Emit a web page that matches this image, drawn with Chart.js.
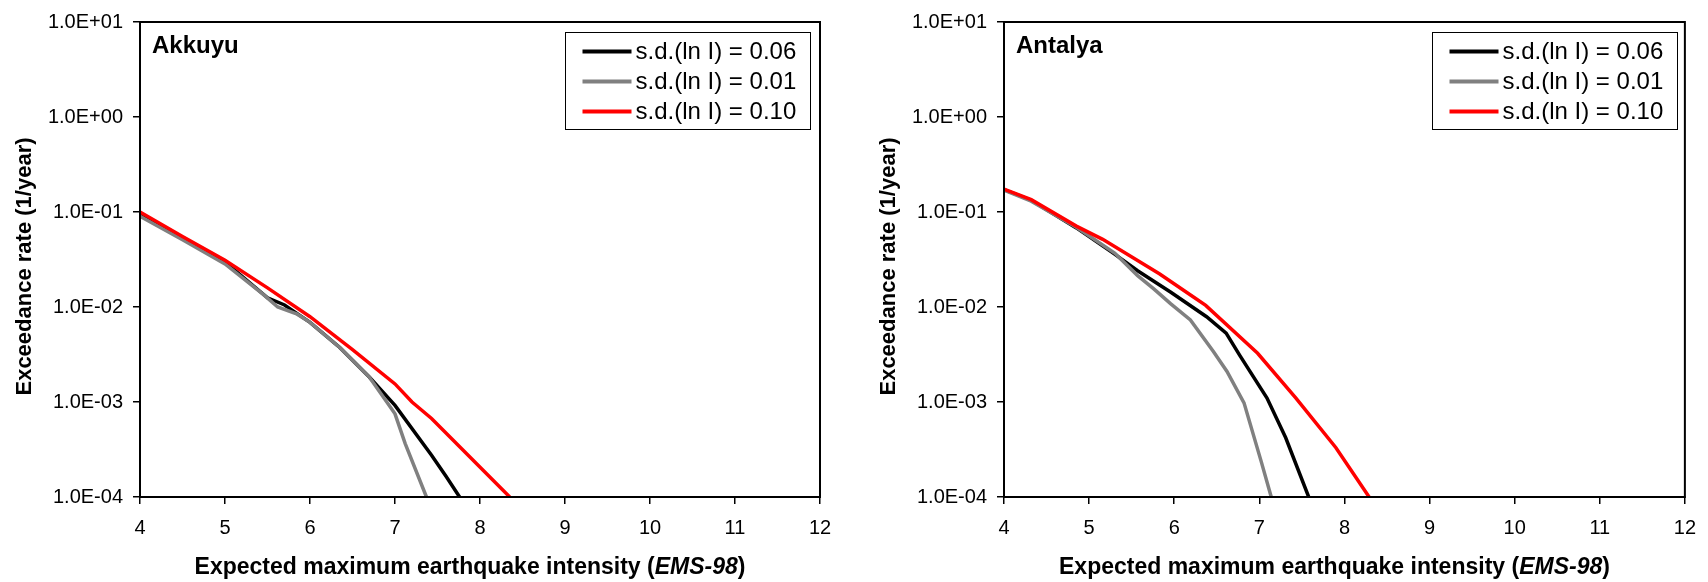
<!DOCTYPE html>
<html>
<head>
<meta charset="utf-8">
<title>Exceedance rate vs expected maximum intensity</title>
<script src="https://cdn.jsdelivr.net/npm/chart.js@4/dist/chart.umd.min.js"></script>
<style>
  body { margin: 0; background: #fff; }
  #wrap { position: relative; width: 1708px; height: 582px; }
  canvas { position: absolute; top: 0; }
</style>
</head>
<body>
<div id="wrap">
  <canvas id="akkuyu" width="850" height="582" style="left:0"></canvas>
  <canvas id="antalya" width="844" height="582" style="left:864px"></canvas>
</div>
<script>
// axis ticks
const xTicks = [4, 5, 6, 7, 8, 9, 10, 11, 12];
const yTicks = [1e-4, 1e-3, 1e-2, 1e-1, 1, 10];
const yTickLabels = ['1.0E-04', '1.0E-03', '1.0E-02', '1.0E-01', '1.0E+00', '1.0E+01'];

const seriesLabels = ['s.d.(ln I) = 0.06', 's.d.(ln I) = 0.01', 's.d.(ln I) = 0.10'];
const seriesColors = ['#000000', '#808080', '#ff0000'];

// Akkuyu
const akkuyuX06 = [4.0, 4.5, 5.0, 5.5, 5.7, 6.0, 6.35, 6.7, 7.0, 7.43, 7.6, 7.76];
const akkuyuY06 = [0.094, 0.053, 0.0298, 0.0125, 0.0105, 0.0069, 0.00375, 0.00182, 0.00092, 0.000275, 0.000165, 0.0001];
const akkuyuX01 = [4.0, 4.5, 5.0, 5.45, 5.62, 5.85, 6.0, 6.35, 6.7, 7.0, 7.12, 7.37];
const akkuyuY01 = [0.090, 0.051, 0.0284, 0.0136, 0.0100, 0.0084, 0.0069, 0.00375, 0.00182, 0.00075, 0.000365, 0.0001];
const akkuyuX10 = [4.0, 4.5, 5.0, 5.5, 6.0, 6.5, 7.0, 7.2, 7.43, 8.35];
const akkuyuY10 = [0.100, 0.0553, 0.031, 0.0159, 0.0079, 0.00355, 0.00155, 0.00100, 0.00067, 0.0001];

// Antalya
const antalyaX06 = [4.0, 4.32, 4.85, 5.3, 5.57, 5.96, 6.38, 6.61, 6.77, 7.09, 7.31, 7.58];
const antalyaY06 = [0.172, 0.133, 0.068, 0.036, 0.0241, 0.0143, 0.0079, 0.0053, 0.0031, 0.0011, 0.00042, 0.0001];
const antalyaX01 = [4.0, 4.32, 4.85, 5.3, 5.57, 5.76, 5.96, 6.19, 6.46, 6.62, 6.82, 7.02, 7.14];
const antalyaY01 = [0.170, 0.130, 0.069, 0.037, 0.0214, 0.0155, 0.0108, 0.0073, 0.0034, 0.0021, 0.00098, 0.00024, 0.0001];
const antalyaX10 = [4.0, 4.32, 4.85, 5.16, 5.83, 6.2, 6.37, 6.98, 7.43, 7.9, 8.29];
const antalyaY10 = [0.174, 0.135, 0.071, 0.0515, 0.0222, 0.0132, 0.0104, 0.00326, 0.0011, 0.00033, 0.0001];

const FONT = '"Liberation Sans", Arial, sans-serif';

function toPoints(xs, ys) {
    return xs.map((x, i) => ({ x: x, y: ys[i] }));
}

// frame, panel name, legend box and axis titles
const decor = {
    id: 'decor',
    afterDatasetsDraw(chart, args, opts) {
        const ctx = chart.ctx;
        const a = chart.chartArea;
        ctx.save();

        ctx.strokeStyle = '#000';
        ctx.lineWidth = 2;
        ctx.strokeRect(a.left, a.top, a.right - a.left, a.bottom - a.top);

        ctx.fillStyle = '#000';
        ctx.textAlign = 'left';
        ctx.textBaseline = 'alphabetic';
        ctx.font = 'bold 24px ' + FONT;
        ctx.fillText(opts.name, a.left + 12, a.top + 31);

        // legend
        const bw = 245, bh = 97;
        const bx = Math.round(a.right - opts.legendGap - bw) + 0.5;
        const by = Math.round(a.top + 10) + 0.5;
        ctx.fillStyle = '#fff';
        ctx.fillRect(bx, by, bw, bh);
        ctx.strokeStyle = '#000';
        ctx.lineWidth = 1;
        ctx.strokeRect(bx, by, bw, bh);
        ctx.font = '24px ' + FONT;
        ctx.textBaseline = 'middle';
        chart.data.datasets.forEach((ds, i) => {
            const y = by + 19 + i * 30;
            ctx.strokeStyle = ds.borderColor;
            ctx.lineWidth = 4;
            ctx.beginPath();
            ctx.moveTo(bx + 17, y);
            ctx.lineTo(bx + 66, y);
            ctx.stroke();
            ctx.fillStyle = '#000';
            ctx.fillText(ds.label, bx + 70, y + 1);
        });

        // y axis title
        ctx.save();
        ctx.translate(a.left - 115, (a.top + a.bottom) / 2 + 7);
        ctx.rotate(-Math.PI / 2);
        ctx.textAlign = 'center';
        ctx.font = 'bold 22px ' + FONT;
        ctx.fillText('Exceedance rate (1/year)', 0, 0);
        ctx.restore();

        // x axis title, with the scale name in italics
        const parts = [
            ['Expected maximum earthquake intensity (', 'bold 23px ' + FONT],
            ['EMS-98', 'italic bold 23px ' + FONT],
            [')', 'bold 23px ' + FONT]
        ];
        let total = 0;
        parts.forEach(p => { ctx.font = p[1]; total += ctx.measureText(p[0]).width; });
        let x = (a.left + a.right) / 2 - 10 - total / 2;
        ctx.textAlign = 'left';
        ctx.textBaseline = 'middle';
        parts.forEach(p => {
            ctx.font = p[1];
            ctx.fillText(p[0], x, 568);
            x += ctx.measureText(p[0]).width;
        });
        ctx.restore();
    }
};

function makeChart(id, name, xs, ys, padRight, padTop, legendGap) {
    const ctx = document.getElementById(id).getContext('2d');
    return new Chart(ctx, {
        type: 'line',
        data: {
            datasets: seriesLabels.map((label, i) => ({
                label: label,
                data: toPoints(xs[i], ys[i]),
                borderColor: seriesColors[i],
                backgroundColor: seriesColors[i],
                borderWidth: 3.5,
                pointRadius: 0,
                tension: 0,
                fill: false,
                order: [2, 1, 0][i]
            }))
        },
        options: {
            responsive: false,
            animation: false,
            devicePixelRatio: 1,
            layout: { padding: { top: padTop, right: padRight, bottom: 0, left: 0 } },
            plugins: {
                legend: { display: false },
                tooltip: { enabled: false },
                decor: { name: name, legendGap: legendGap }
            },
            scales: {
                x: {
                    type: 'linear',
                    min: 4,
                    max: 12,
                    afterBuildTicks: (scale) => { scale.ticks = xTicks.map(v => ({ value: v })); },
                    afterFit: (scale) => { scale.height = 85; },
                    grid: { drawOnChartArea: false, drawTicks: true, tickLength: 7, color: '#000', lineWidth: 1.5 },
                    border: { display: true, color: '#000', width: 2 },
                    ticks: {
                        autoSkip: false,
                        maxRotation: 0,
                        padding: 12,
                        color: '#000',
                        font: { family: FONT, size: 20 },
                        callback: (v) => String(v)
                    }
                },
                y: {
                    type: 'logarithmic',
                    min: 1e-4,
                    max: 10,
                    afterBuildTicks: (scale) => { scale.ticks = yTicks.map(v => ({ value: v })); },
                    afterFit: (scale) => { scale.width = 140; },
                    grid: { drawOnChartArea: false, drawTicks: true, tickLength: 7, color: '#000', lineWidth: 1.5 },
                    border: { display: true, color: '#000', width: 2 },
                    ticks: {
                        autoSkip: false,
                        padding: 10,
                        color: '#000',
                        font: { family: FONT, size: 20 },
                        callback: (v, i) => yTickLabels[i]
                    }
                }
            }
        },
        plugins: [decor]
    });
}

makeChart('akkuyu', 'Akkuyu',
    [akkuyuX06, akkuyuX01, akkuyuX10],
    [akkuyuY06, akkuyuY01, akkuyuY10],
    30, 19.5, 10);

makeChart('antalya', 'Antalya',
    [antalyaX06, antalyaX01, antalyaX10],
    [antalyaY06, antalyaY01, antalyaY10],
    22, 17.5, 8);
</script>
</body>
</html>
